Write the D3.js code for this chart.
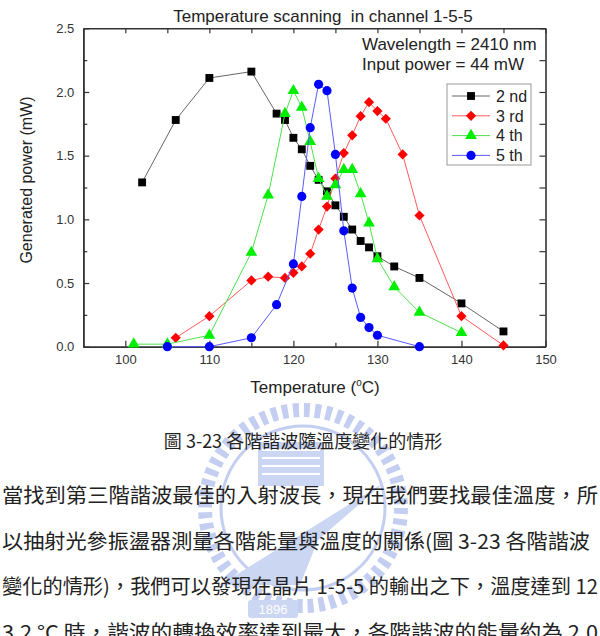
<!DOCTYPE html>
<html>
<head>
<meta charset="utf-8">
<script src="https://cdn.jsdelivr.net/npm/d3@7"></script>
<style>
  body { margin: 0; background: #fff; }
  svg { display: block; }
</style>
</head>
<body>
<div id="container"></div>
<script>
const width = 600;
const height = 636;

// data
const temps2 = [102, 106, 110, 115, 118, 119, 120, 121, 122, 123, 124, 125, 126, 127, 128, 129, 130, 132, 135, 140, 145];
const power2 = [1.29, 1.78, 2.11, 2.16, 1.83, 1.78, 1.64, 1.55, 1.42, 1.31, 1.22, 1.11, 1.02, 0.92, 0.83, 0.78, 0.71, 0.63, 0.54, 0.34, 0.12];
const temps3 = [106, 110, 115, 117, 119, 120, 121, 122, 123, 124, 125, 126, 127, 128, 129, 130, 131, 133, 135, 140, 145];
const power3 = [0.07, 0.24, 0.52, 0.55, 0.54, 0.58, 0.63, 0.73, 0.92, 1.10, 1.32, 1.52, 1.66, 1.81, 1.92, 1.85, 1.79, 1.51, 1.03, 0.24, 0.01];
const temps4 = [101, 105, 110, 115, 117, 119, 120, 121, 122, 123, 124, 125, 126, 127, 128, 129, 130, 132, 135, 140];
const power4 = [0.02, 0.02, 0.09, 0.74, 1.19, 1.83, 2.01, 1.88, 1.61, 1.32, 1.18, 1.27, 1.39, 1.39, 1.20, 0.97, 0.69, 0.47, 0.27, 0.11];
const temps5 = [105, 110, 115, 118, 120, 121, 122, 123, 124, 125, 126, 127, 128, 129, 130, 135];
const power5 = [0.00, 0.00, 0.07, 0.33, 0.65, 1.18, 1.72, 2.06, 2.01, 1.51, 0.91, 0.46, 0.23, 0.15, 0.09, 0.00];

const seriesNames = ["2 nd", "3 rd", "4 th", "5 th"];
const xTicks = [100, 110, 120, 130, 140, 150];
const xMinorTicks = [105, 115, 125, 135, 145];
const yTicks = [0.0, 0.5, 1.0, 1.5, 2.0, 2.5];
const yMinorTicks = [0.25, 0.75, 1.25, 1.75, 2.25];

const chartTitle = "Temperature scanning  in channel 1-5-5";
const noteLines = ["Wavelength = 2410 nm", "Input power = 44 mW"];
const caption = "圖 3-23 各階諧波隨溫度變化的情形";
const bodyLines = [
  "當找到第三階諧波最佳的入射波長，現在我們要找最佳溫度，所",
  "以抽射光參振盪器測量各階能量與溫度的關係(圖 3-23 各階諧波",
  "變化的情形)，我們可以發現在晶片 1-5-5 的輸出之下，溫度達到 12",
  "3.2 °C 時，諧波的轉換效率達到最大，各階諧波的能量約為 2.0"
];
const bodyWidths = [596, 588, 596, 596];

const plotLeft = 83.3, plotRight = 545.5, plotTop = 28.3, plotBottom = 346.7;
const font = "'Liberation Sans', Arial, sans-serif";
const cjk = "'Noto Sans CJK TC', 'Noto Sans CJK SC', sans-serif";

const svg = d3.select("#container").append("svg").attr("width", width).attr("height", height);

// faint watermark logo behind the text
const logo = svg.append("g").attr("fill", "none").attr("stroke", "#b9c6ee").attr("opacity", 0.85);
logo.append("circle").attr("cx", 303).attr("cy", 508).attr("r", 98)
  .attr("stroke-width", 14).attr("stroke-dasharray", "6 5");
logo.append("circle").attr("cx", 303).attr("cy", 508).attr("r", 82).attr("stroke-width", 3);
logo.append("rect").attr("x", 258).attr("y", 442).attr("width", 66).attr("height", 44)
  .attr("fill", "#c3cff2").attr("stroke", "none");
logo.selectAll(".stripe").data([450, 458, 466, 474]).enter().append("line").attr("class", "stripe")
  .attr("x1", 262).attr("x2", 320).attr("y1", d => d).attr("y2", d => d).attr("stroke", "#fff").attr("stroke-width", 2);
logo.append("path").attr("d", "M220,585 L385,482 L318,540 L300,585 Z").attr("fill", "#c3cff2").attr("stroke", "none");
logo.append("rect").attr("x", 248).attr("y", 600).attr("width", 50).attr("height", 18).attr("rx", 3)
  .attr("fill", "#c3cff2").attr("stroke", "none");
logo.append("text").attr("x", 273).attr("y", 614).attr("text-anchor", "middle")
  .attr("fill", "#fff").attr("stroke", "none").attr("font-family", font).attr("font-size", 13).text("1896");

const xScale = d3.scaleLinear().domain([95, 150]).range([plotLeft, plotRight]);
const yScale = d3.scaleLinear().domain([0, 2.5]).range([plotBottom, plotTop]);

function styleAxis(g) {
  g.attr("color", "#333").attr("font-family", font).attr("font-size", 13);
  g.select(".domain").attr("stroke-width", 1.6);
  g.selectAll(".tick line").attr("stroke-width", 1.2);
  g.selectAll(".tick text").attr("fill", "#333");
}

// bottom / left axes with labels, top / right without
svg.append("g").attr("transform", `translate(0,${plotBottom})`)
  .call(d3.axisBottom(xScale).tickValues(xTicks).tickSize(-6).tickSizeOuter(0).tickPadding(8)).call(styleAxis);
svg.append("g").attr("transform", `translate(0,${plotBottom})`)
  .call(d3.axisBottom(xScale).tickValues(xMinorTicks).tickSize(-4).tickSizeOuter(0).tickFormat("")).call(styleAxis);
svg.append("g").attr("transform", `translate(0,${plotTop})`)
  .call(d3.axisTop(xScale).tickValues(xTicks.concat(xMinorTicks)).tickSize(-5).tickSizeOuter(0).tickFormat("")).call(styleAxis);

svg.append("g").attr("transform", `translate(${plotLeft},0)`)
  .call(d3.axisLeft(yScale).tickValues(yTicks).tickSize(-6).tickSizeOuter(0).tickPadding(9).tickFormat(d3.format(".1f"))).call(styleAxis);
svg.append("g").attr("transform", `translate(${plotLeft},0)`)
  .call(d3.axisLeft(yScale).tickValues(yMinorTicks).tickSize(-4).tickSizeOuter(0).tickFormat("")).call(styleAxis);
svg.append("g").attr("transform", `translate(${plotRight},0)`)
  .call(d3.axisRight(yScale).tickValues(yTicks.concat(yMinorTicks)).tickSize(-6).tickSizeOuter(0).tickFormat("")).call(styleAxis);

// titles
svg.append("text").attr("x", 323).attr("y", 22).attr("text-anchor", "middle")
  .attr("font-family", font).attr("font-size", 17).attr("fill", "#222")
  .style("white-space", "pre").text(chartTitle);

const xLabel = svg.append("text").attr("x", 315).attr("y", 393).attr("text-anchor", "middle")
  .attr("font-family", font).attr("font-size", 17).attr("fill", "#222");
xLabel.append("tspan").text("Temperature (");
xLabel.append("tspan").attr("font-size", 10).attr("dy", -7).text("o");
xLabel.append("tspan").attr("dy", 7).text("C)");

svg.append("text").attr("transform", "translate(32,180) rotate(-90)").attr("text-anchor", "middle")
  .attr("font-family", font).attr("font-size", 16).attr("fill", "#222").text("Generated power (mW)");

svg.selectAll(".note").data(noteLines).enter().append("text").attr("class", "note")
  .attr("x", 362).attr("y", (d, i) => 50 + i * 19.5)
  .attr("font-family", font).attr("font-size", 17).attr("fill", "#222").text(d => d);

// series
const series = [
  {name: seriesNames[0], xs: temps2, ys: power2, line: "#666", fill: "#000", shape: d3.symbolSquare, size: 62, rot: 0},
  {name: seriesNames[1], xs: temps3, ys: power3, line: "#ff5a5a", fill: "#f00", shape: d3.symbolSquare, size: 52, rot: 45},
  {name: seriesNames[2], xs: temps4, ys: power4, line: "#4ee04e", fill: "#00ee00", shape: d3.symbolTriangle, size: 60, rot: 0},
  {name: seriesNames[3], xs: temps5, ys: power5, line: "#5a5aff", fill: "#00f", shape: d3.symbolCircle, size: 66, rot: 0}
];

const line = d3.line().x(d => xScale(d[0])).y(d => yScale(d[1]));

series.forEach(s => {
  const pts = s.xs.map((x, i) => [x, s.ys[i]]);
  const g = svg.append("g");
  g.append("path").attr("d", line(pts)).attr("fill", "none").attr("stroke", s.line).attr("stroke-width", 1);
  g.selectAll("path.pt").data(pts).enter().append("path").attr("class", "pt")
    .attr("d", d3.symbol().type(s.shape).size(s.size))
    .attr("transform", d => `translate(${xScale(d[0])},${yScale(d[1])}) rotate(${s.rot})`)
    .attr("fill", s.fill);
});

// legend
const legend = svg.append("g");
legend.append("rect").attr("x", 447).attr("y", 84).attr("width", 84).attr("height", 81)
  .attr("fill", "#fff").attr("stroke", "#999").attr("stroke-width", 1);
const rows = legend.selectAll(".row").data(series).enter().append("g").attr("class", "row")
  .attr("transform", (d, i) => `translate(0,${96 + i * 19.8})`);
rows.append("line").attr("x1", 452).attr("x2", 490).attr("stroke", d => d.line).attr("stroke-width", 1);
rows.append("path").attr("d", d => d3.symbol().type(d.shape).size(d.size)())
  .attr("transform", d => `translate(471,0) rotate(${d.rot})`).attr("fill", d => d.fill);
rows.append("text").attr("x", 496).attr("dy", "0.36em").attr("font-family", font).attr("font-size", 16)
  .attr("fill", "#222").text(d => d.name);

// caption and body text under the figure
svg.append("text").attr("x", 303).attr("y", 448).attr("text-anchor", "middle")
  .attr("font-family", cjk).attr("font-size", 18).attr("fill", "#222").text(caption);
svg.selectAll(".body").data(bodyLines).enter().append("text").attr("class", "body")
  .attr("x", 2).attr("y", (d, i) => 503 + i * 45.5)
  .attr("textLength", (d, i) => bodyWidths[i]).attr("lengthAdjust", "spacingAndGlyphs")
  .attr("font-family", cjk).attr("font-size", 20).attr("fill", "#222").text(d => d);
</script>
</body>
</html>
